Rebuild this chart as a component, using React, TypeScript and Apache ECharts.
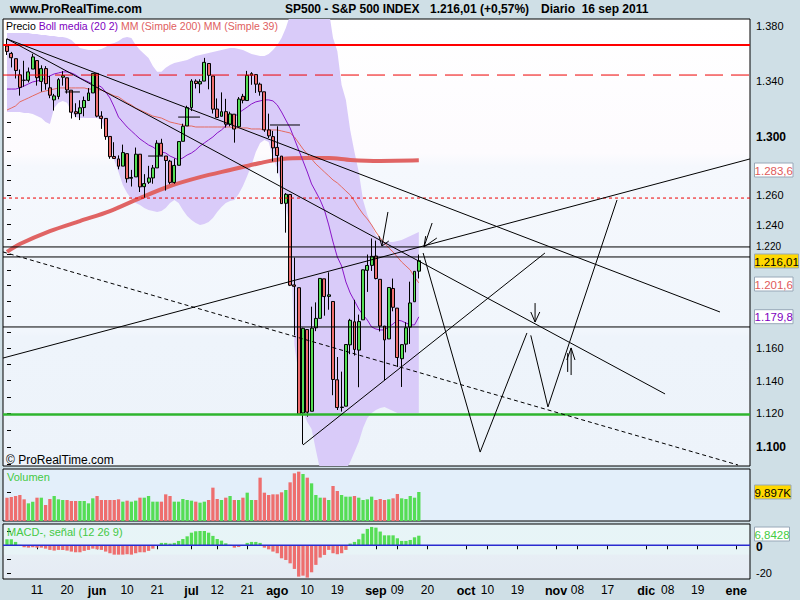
import React, { useEffect, useRef } from "react";
import * as echarts from "echarts";

const FONT = '"Liberation Sans", Arial, Helvetica, sans-serif';
const L = Math.log;

// ---------------- DATA (S&P 500 daily, 2 May 2011 .. 16 Sep 2011, index = trading day) -------------
const opens = [
  1365.21, 1359.76, 1355.9, 1344.16, 1340.24, 1340.2, 1348.34, 1354.51, 1339.39, 1348.69,
  1334.77, 1326.1, 1328.54, 1342.4, 1342.0, 1333.07, 1317.7, 1316.36, 1320.64, 1325.69,
  1331.1, 1345.2, 1314.55, 1312.94, 1300.26, 1286.31, 1284.63, 1279.63, 1288.26, 1271.31,
  1272.22, 1287.87, 1265.53, 1268.58, 1271.5, 1278.4, 1295.48, 1286.6, 1283.04, 1268.44,
  1280.21, 1296.85, 1307.64, 1320.64, 1339.59, 1337.56, 1339.62, 1352.39, 1343.31, 1319.61,
  1314.45, 1317.74, 1308.87, 1315.94, 1307.07, 1328.66, 1325.65, 1343.8, 1344.32, 1337.39,
  1331.91, 1304.84, 1300.12, 1292.59, 1286.56, 1254.25, 1260.23, 1200.28, 1198.48, 1120.23,
  1171.77, 1121.3, 1172.87, 1178.86, 1204.22, 1192.89, 1189.62, 1140.47, 1123.55, 1124.36,
  1162.16, 1176.69, 1158.85, 1177.91, 1209.76, 1213.0, 1219.12, 1203.9, 1173.97, 1165.85,
  1197.98, 1185.37, 1153.5, 1162.59, 1173.32, 1189.44, 1209.21,
];
const highs = [
  1370.58, 1360.84, 1355.9, 1348.0, 1354.36, 1349.44, 1359.44, 1354.51, 1351.05, 1350.47,
  1343.33, 1330.42, 1341.82, 1346.82, 1342.0, 1333.07, 1323.72, 1325.86, 1328.51, 1334.62,
  1345.2, 1345.2, 1318.03, 1312.94, 1300.26, 1296.22, 1287.04, 1294.54, 1288.26, 1277.04,
  1292.5, 1287.87, 1274.11, 1279.82, 1280.42, 1297.62, 1298.61, 1286.6, 1283.93, 1284.91,
  1296.8, 1309.21, 1321.97, 1341.01, 1340.89, 1340.94, 1356.48, 1352.39, 1343.31, 1327.17,
  1331.48, 1326.88, 1317.7, 1315.94, 1328.14, 1330.43, 1347.0, 1346.1, 1344.32, 1338.51,
  1331.91, 1316.32, 1304.16, 1307.38, 1286.56, 1261.2, 1260.23, 1218.11, 1198.48, 1172.88,
  1171.77, 1186.29, 1189.04, 1204.49, 1204.22, 1208.47, 1189.62, 1154.54, 1145.49, 1162.35,
  1178.56, 1190.68, 1181.23, 1210.28, 1220.1, 1230.71, 1229.29, 1203.9, 1173.97, 1198.62,
  1204.4, 1185.37, 1162.52, 1176.41, 1202.38, 1209.11, 1220.06,
];
const lows = [
  1358.59, 1349.52, 1341.5, 1329.17, 1335.58, 1338.64, 1348.34, 1336.36, 1332.03, 1333.36,
  1327.32, 1318.51, 1326.59, 1336.36, 1330.67, 1312.88, 1313.87, 1311.8, 1314.41, 1325.69,
  1331.1, 1313.71, 1305.61, 1297.9, 1284.72, 1284.74, 1277.42, 1279.63, 1268.28, 1265.64,
  1272.22, 1261.9, 1258.07, 1267.4, 1267.56, 1278.4, 1286.79, 1262.87, 1267.24, 1267.53,
  1280.21, 1296.85, 1307.64, 1318.18, 1334.3, 1330.92, 1339.62, 1333.71, 1316.42, 1313.33,
  1314.45, 1306.51, 1307.35, 1295.92, 1307.07, 1323.65, 1325.65, 1336.95, 1331.09, 1329.1,
  1303.49, 1299.16, 1282.86, 1274.73, 1254.03, 1234.56, 1199.54, 1168.09, 1119.28, 1101.54,
  1118.01, 1121.3, 1170.74, 1178.86, 1180.53, 1184.36, 1131.03, 1122.05, 1121.09, 1124.36,
  1156.3, 1155.47, 1135.91, 1177.91, 1195.77, 1209.35, 1203.85, 1170.56, 1140.13, 1165.85,
  1183.34, 1148.37, 1136.07, 1157.44, 1162.73, 1189.44, 1204.46,
];
const closes = [
  1361.22, 1356.62, 1347.32, 1335.1, 1340.2, 1346.29, 1357.16, 1342.08, 1348.65, 1337.77,
  1329.47, 1328.98, 1340.68, 1343.6, 1333.27, 1317.37, 1316.28, 1320.47, 1325.69, 1331.1,
  1345.2, 1314.55, 1312.94, 1300.16, 1286.17, 1284.94, 1279.56, 1289.0, 1270.98, 1271.83,
  1287.87, 1265.42, 1267.64, 1271.5, 1278.36, 1295.52, 1287.14, 1283.5, 1268.45, 1280.1,
  1296.67, 1307.41, 1320.64, 1339.67, 1337.88, 1339.22, 1353.22, 1343.8, 1319.49, 1313.64,
  1317.72, 1308.87, 1316.14, 1305.44, 1326.73, 1325.84, 1343.8, 1345.02, 1337.43, 1331.94,
  1304.89, 1300.67, 1292.28, 1286.94, 1254.05, 1260.34, 1200.07, 1199.38, 1119.46, 1172.53,
  1120.76, 1172.64, 1178.81, 1204.49, 1192.76, 1193.89, 1140.65, 1123.53, 1123.82, 1162.35,
  1177.6, 1159.27, 1176.8, 1210.08, 1212.92, 1218.89, 1204.42, 1173.97, 1165.24, 1198.62,
  1185.9, 1154.23, 1162.27, 1172.87, 1188.68, 1209.11, 1216.01,
];
const volumes = [
  7960, 8190, 8530, 8870, 7400, 6030, 6600, 7960, 7960, 5460,
  7510, 8530, 7400, 7170, 7170, 6830, 6830, 6830, 6830, 6030,
  7740, 8530, 7170, 7170, 7170, 7170, 7400, 6600, 6940, 6600,
  6940, 7960, 7960, 8530, 6600, 6600, 6600, 9100, 8530, 6600,
  6600, 7510, 7170, 6940, 6600, 6260, 6600, 7170, 11380, 7510,
  7170, 7960, 8530, 7170, 7170, 7960, 9670, 7170, 7170, 14790,
  9670, 8870, 9100, 9100, 9790, 10580, 13200, 16270, 16840, 16040,
  14790, 12860, 8870, 7960, 7960, 7170, 11950, 10240, 8870, 8310,
  8310, 8530, 7960, 7170, 7400, 8310, 7170, 7510, 7170, 7400,
  7740, 9220, 7740, 7510, 8530, 7960, 9897,
];
const macdHist = [
  4.3, 4.3, 2.4, 0.3, -1.4, -1.7, -1.4, -1.7, -1.7, -2.4,
  -3.3, -3.8, -3.3, -3.3, -3.8, -4.5, -5.0, -5.0, -4.0, -3.3,
  -2.4, -2.9, -3.3, -4.5, -5.7, -6.7, -6.7, -6.7, -6.4, -6.7,
  -5.7, -5.0, -5.0, -4.0, -2.4, 0.2, 1.7, 1.7, 1.2, 1.7,
  3.1, 4.5, 6.4, 9.0, 10.0, 10.2, 10.2, 9.0, 6.7, 4.5,
  3.3, 1.4, 0.3, -1.7, -1.2, 0.2, 1.7, 2.4, 2.4, 1.7,
  -1.7, -2.9, -4.5, -5.7, -9.3, -10.5, -12.9, -16.9, -22.4, -21.7,
  -23.1, -19.3, -14.0, -8.8, -6.9, -3.3, -5.7, -6.4, -5.7, -3.3,
  1.2, 2.4, 4.3, 8.3, 11.7, 13.1, 12.6, 9.8, 7.1, 7.1,
  7.1, 5.0, 3.1, 3.1, 3.8, 5.7, 6.84,
];
const bbUpper = [
  1374.8, 1374.8, 1374.8, 1374.8, 1374.8, 1374.8, 1374.0, 1374.0, 1373.3, 1373.3,
  1372.6, 1372.6, 1371.8, 1371.8, 1371.1, 1369.6, 1366.7, 1363.7, 1363.0, 1362.3,
  1362.3, 1362.3, 1363.0, 1364.5, 1366.7, 1367.4, 1368.9, 1371.1, 1371.8, 1371.1,
  1365.9, 1362.3, 1359.4, 1356.4, 1350.6, 1346.3, 1346.3,
  1349.2, 1351.3, 1352.8, 1353.5, 1354.2, 1354.9, 1356.4, 1357.9, 1358.6, 1359.4,
  1360.1, 1360.8, 1361.6, 1362.3, 1363.0, 1363.7, 1363.7, 1363.0, 1362.3, 1360.8,
  1359.4, 1358.6, 1357.9, 1357.9, 1359.4, 1362.3, 1365.9, 1371.1,
  1378.5, 1388.2, 1395.7, 1403.2, 1408.5, 1410.8, 1413.1, 1414.6, 1414.6, 1413.1,
  1392.0, 1371.1, 1361.6, 1336.8, 1326.1, 1304.8, 1289.4, 1275.6, 1256.5, 1246.4,
  1239.7, 1233.0, 1229.7, 1228.4, 1228.4, 1228.4, 1229.0, 1229.7, 1231.0, 1232.3,
  1233.6, 1235.0,
];
const bbLower = [
  1317.5, 1317.5, 1317.5, 1317.5, 1316.8, 1316.8, 1316.1, 1314.6, 1313.2, 1310.4,
  1309.0, 1320.3, 1324.0, 1325.4, 1324.0, 1317.5, 1313.9, 1313.2, 1313.2, 1313.2,
  1313.2, 1313.2, 1311.8, 1303.4, 1294.3, 1283.9, 1275.6, 1266.7, 1261.3, 1257.2,
  1254.5, 1253.1, 1251.1, 1249.7, 1249.0, 1248.4, 1249.0, 1251.1, 1254.5, 1256.5,
  1254.5, 1249.7, 1245.7, 1243.0, 1241.0, 1239.7, 1240.3, 1241.7, 1244.3, 1248.4,
  1251.7, 1254.5, 1255.8, 1256.5, 1260.6, 1266.0, 1272.9, 1280.4, 1289.4, 1295.7,
  1297.8, 1296.4, 1285.3, 1278.4, 1266.7, 1253.1, 1236.3, 1162.0, 1143.4, 1120.8,
  1114.8, 1110.6, 1098.2, 1086.4, 1080.6, 1079.5, 1079.5, 1080.6, 1083.0, 1086.4,
  1091.1, 1097.0, 1102.9, 1111.2, 1117.2, 1120.2, 1122.0, 1123.2, 1123.8, 1122.6,
  1121.4, 1120.2, 1120.2, 1120.2, 1120.2, 1120.2, 1120.2,
];
const bbMid = [
  1333.9, 1333.9, 1333.9, 1334.7, 1336.1, 1337.6, 1339.0, 1339.7, 1340.4, 1341.9,
  1343.4, 1344.8, 1345.5, 1346.3, 1346.3, 1345.5, 1344.1, 1341.9, 1340.4, 1339.0,
  1337.6, 1336.8, 1335.4, 1331.8, 1327.5, 1321.0, 1313.9, 1310.4, 1306.9, 1304.1,
  1301.3, 1298.5, 1296.4, 1294.3, 1292.9, 1290.8, 1289.4, 1288.7, 1286.6, 1285.3,
  1283.9, 1285.3, 1287.3, 1288.7, 1290.8, 1293.6, 1295.7, 1297.8, 1299.9, 1302.7,
  1304.8, 1307.6, 1310.4, 1313.9, 1316.8, 1318.9, 1321.0, 1323.2, 1324.7, 1325.4,
  1326.1, 1326.1, 1325.4, 1322.5, 1317.5, 1311.8, 1306.2, 1298.5, 1290.8, 1283.2,
  1275.6, 1267.4, 1262.0, 1256.5, 1249.7, 1239.7, 1228.4, 1218.5, 1212.6, 1202.2,
  1195.1, 1190.0, 1184.8, 1181.0, 1177.8, 1173.4, 1172.1, 1171.5, 1171.5, 1173.4,
  1175.3, 1177.8, 1177.2, 1175.9, 1174.7, 1174.7, 1179.8,
];
const ma39 = [
  1318.9, 1320.3, 1321.8, 1324.7, 1326.1, 1327.5, 1329.0, 1330.4, 1331.8, 1332.5,
  1333.2, 1333.9, 1334.7, 1334.7, 1334.7, 1334.7, 1334.7, 1334.7, 1334.7, 1333.9,
  1333.9, 1333.2, 1333.2, 1331.8, 1330.4, 1329.0, 1328.2, 1326.1, 1324.0, 1322.5,
  1320.3, 1318.9, 1317.5, 1316.1, 1314.6, 1313.9, 1313.2, 1311.8, 1310.4, 1309.7,
  1309.0, 1308.3, 1307.6, 1307.6, 1306.9, 1306.9, 1306.9, 1306.9, 1306.9, 1306.9,
  1306.9, 1306.9, 1306.9, 1306.2, 1306.2, 1306.2, 1306.2, 1305.5, 1305.5, 1305.5,
  1304.8, 1304.8, 1304.8, 1304.8, 1304.1, 1303.4, 1302.7, 1299.9, 1295.7, 1291.5,
  1288.0, 1284.6, 1281.1, 1278.4, 1275.6, 1272.9, 1270.1, 1268.1, 1265.4, 1262.6,
  1259.9, 1255.8, 1251.1, 1247.0, 1243.7, 1239.7, 1235.0, 1231.0, 1227.7, 1224.4,
  1221.8, 1218.5, 1215.2, 1212.6, 1210.0, 1205.4, 1201.6,
];
const ma200Idx = [0, 3, 10, 17, 24, 31, 38, 45, 52, 59, 64, 70, 75, 80, 87, 96];
const ma200Val = [1221.8, 1227.0, 1235.6, 1242.3, 1249.0, 1257.8, 1266.0, 1272.1, 1277.0, 1281.8, 1284.6, 1285.3, 1285.3, 1283.9, 1283.2, 1283.6];

// horizontal levels (price)
const redSolidLevel = 1365.9;
const redDashLevel = 1344.0;
const redDotLevel = 1257.8;
const blackLevels = [1225.1, 1218.5, 1173.4];
const greenLevel = 1119.4;

// drawn trend lines: polylines of [tradingDayIndex, price]
const trendLines = [
  [[0, 1370.4], [166.2, 1182.9]],
  [[0, 1370.4], [153.4, 1131.8]],
  [[-0.93, 1153.9], [173.2, 1284.6]],
  [[69.0, 1101.1], [125.4, 1221.1]],
  [[97.0, 1221.1], [110.3, 1096.9], [121.2, 1169.6]],
  [[122.1, 1168.1], [126.1, 1123.9], [142.2, 1256.5]],
  // arrows
  [[88.8, 1248.4], [87.4, 1225.7]],
  [[86.7, 1232.3], [87.4, 1225.7], [89.0, 1229.0]],
  [[99.1, 1241.0], [97.2, 1225.1]],
  [[97.6, 1232.3], [97.2, 1225.1], [100.2, 1231.0]],
  [[123.1, 1188.6], [123.1, 1176.5]],
  [[122.1, 1182.9], [123.1, 1176.5], [124.2, 1182.9]],
  [[131.5, 1143.4], [131.5, 1160.2]],
  [[130.5, 1152.7], [131.5, 1160.2], [132.4, 1152.7]],
  [[130.7, 1145.3], [130.7, 1157.0]],
  // short horizontal marks
  [[13.5, 1331.8], [17.0, 1331.8]],
  [[32.9, 1286.6], [36.4, 1286.6]],
  [[39.9, 1313.9], [45.0, 1313.9]],
  [[61.3, 1308.3], [68.3, 1308.3]],
];
const dottedLine = [[-0.93, 1221.8], [170.4, 1089.3]];

// axis labels
const xLabelIdx = [7, 14, 21, 28, 35, 43, 49, 56, 63, 70, 77, 86, 91, 98, 107, 112, 119, 128, 133, 140, 149, 154, 161, 170];
const xLabelText = ["11", "20", "jun", "10", "21", "jul", "12", "21", "ago", "10", "19", "sep", "09", "20", "oct", "10", "19", "nov", "08", "17", "dic", "08", "19", "ene"];
const priceLabels = [1100, 1120, 1140, 1160, 1220, 1240, 1260, 1300, 1340, 1380];
const priceBold = [1100, 1300];
const priceRaised = [1220];
const macdLabels = [0, -20];
const macdTicks = [10, 0, -10, -20];

// texts
const siteTitle = "www.ProRealTime.com";
const instTitle = "SP500 - S&P 500 INDEX";
const lastTitle = "1.216,01 (+0,57%)";
const dateTitle = "Diario  16 sep 2011";
const lastLabel = "1.216,01";
const ma200Label = "1.283,6";
const ma39Label = "1.201,6";
const bbLabel = "1.179,8";
const volLabel = "9.897K";
const macdLabel = "6,8428";

// ---------------- layout ----------------
const XMIN = -0.93;
const XMAX = 173.2;
const PMIN = 1088.7;
const PMAX = 1385.2;
const GREEN = "#55dd55";
const RED = "#ee6e6e";
const LAV = "#d9cbf9";
const SALMON = "#e46a60";
const PURPLE = "#8a16c8";

function fmtPrice(n: number) {
  return (n / 1000).toFixed(3);
}

function buildOption() {
  const n = closes.length;
  const up = closes.map((c, i) => c >= opens[i]);
  const priceTicks: number[] = [];
  for (let v = 1090; v <= 1380; v += 10) priceTicks.push(L(v));

  const lineSeries = (pts: number[][], color: string, width: number, type: any = "solid", z = 5) => ({
    type: "line",
    xAxisIndex: 0,
    yAxisIndex: 0,
    data: pts.map((p) => [p[0], L(p[1])]),
    symbol: "none",
    silent: true,
    lineStyle: { color, width, type },
    z,
  });
  const hLine = (p: number, color: string, width: number, type: any = "solid", z = 4) =>
    lineSeries([[XMIN, p], [XMAX, p]], color, width, type, z);

  const series: any[] = [
    {
      type: "custom",
      xAxisIndex: 0,
      yAxisIndex: 0,
      data: [[0, L(bbUpper[0])]],
      silent: true,
      clip: true,
      z: 1,
      renderItem: (params: any, api: any) => {
        const pts: number[][] = [];
        bbUpper.forEach((v, i) => pts.push(api.coord([i, L(v)])));
        for (let i = bbLower.length - 1; i >= 0; i--) pts.push(api.coord([i, L(bbLower[i])]));
        const cs = params.coordSys;
        return {
          type: "group",
          clipPath: { type: "rect", shape: { x: cs.x, y: cs.y, width: cs.width, height: cs.height } },
          children: [{ type: "polygon", shape: { points: pts }, style: { fill: LAV, stroke: "none" } }],
        };
      },
    },
    {
      type: "line",
      xAxisIndex: 0,
      yAxisIndex: 0,
      data: ma200Idx.map((x, k) => [x, L(ma200Val[k])]),
      symbol: "none",
      silent: true,
      smooth: 0.3,
      lineStyle: { color: "#e06464", width: 4 },
      z: 2,
    },
    {
      type: "line",
      xAxisIndex: 0,
      yAxisIndex: 0,
      data: ma39.map((v, i) => [i, L(v)]),
      symbol: "none",
      silent: true,
      lineStyle: { color: SALMON, width: 1 },
      z: 2,
    },
    {
      type: "line",
      xAxisIndex: 0,
      yAxisIndex: 0,
      data: bbMid.map((v, i) => [i, L(v)]),
      symbol: "none",
      silent: true,
      lineStyle: { color: PURPLE, width: 1 },
      z: 2,
    },
    {
      type: "candlestick",
      xAxisIndex: 0,
      yAxisIndex: 0,
      barWidth: 3.4,
      data: closes.map((c, i) => [i, L(opens[i]), L(c), L(lows[i]), L(highs[i])]),
      itemStyle: {
        color: GREEN,
        color0: RED,
        borderColor: "#000",
        borderColor0: "#000",
        borderWidth: 1,
      },
      silent: true,
      z: 3,
    },
    hLine(redSolidLevel, "#ff0000", 2),
    hLine(redDashLevel, "#ee0000", 1, [18, 8]),
    hLine(redDotLevel, "#ee0000", 1, [3, 3]),
    ...blackLevels.map((p) => hLine(p, "#000", 1)),
    hLine(greenLevel, "#2eb52e", 2.5),
    ...trendLines.map((pts) => lineSeries(pts, "#000", 1)),
    lineSeries(dottedLine, "#000", 1, [4, 3]),
    {
      type: "bar",
      xAxisIndex: 1,
      yAxisIndex: 1,
      barWidth: 3.3,
      data: volumes.map((v, i) => ({ value: [i, v], itemStyle: { color: up[i] ? GREEN : RED } })),
      silent: true,
    },
    {
      type: "bar",
      xAxisIndex: 2,
      yAxisIndex: 2,
      barWidth: 3.3,
      data: macdHist.map((v, i) => ({ value: [i, v], itemStyle: { color: v >= 0 ? GREEN : RED } })),
      silent: true,
    },
    {
      type: "line",
      xAxisIndex: 2,
      yAxisIndex: 2,
      data: [[XMIN, 0], [XMAX, 0]],
      symbol: "none",
      silent: true,
      lineStyle: { color: "#2a2ad0", width: 1.5 },
      z: 5,
    },
  ];

  const mainBg = new echarts.graphic.LinearGradient(0, 0, 0, 1, [
    { offset: 0, color: "#ffffff" },
    { offset: 0.3, color: "#fdfbfe" },
    { offset: 0.33, color: "#f5f8fd" },
    { offset: 0.7, color: "#f1f6fc" },
    { offset: 0.71, color: "#eef4fb" },
    { offset: 1, color: "#edf3fa" },
  ]);
  const macdBg = new echarts.graphic.LinearGradient(0, 0, 0, 1, [
    { offset: 0, color: "#e7f5f7" },
    { offset: 0.55, color: "#e8f4f7" },
    { offset: 0.56, color: "#e7eef5" },
    { offset: 1, color: "#e5ebf4" },
  ]);

  const hiddenX = (gi: number) => ({
    type: "value",
    gridIndex: gi,
    min: XMIN,
    max: XMAX,
    show: false,
    splitLine: { show: false },
  });

  const boxes = [
    { y: 170, w: 38.5, text: ma200Label, fill: "#ffffff", color: "#e05a5a" },
    { y: 261, w: 44, text: lastLabel, fill: "#ffd800", color: "#000" },
    { y: 284, w: 38.5, text: ma39Label, fill: "#ffffff", color: "#e05a5a" },
    { y: 316.7, w: 38.5, text: bbLabel, fill: "#ffffff", color: "#8000c0" },
    { y: 492, w: 36.5, text: volLabel, fill: "#ffd800", color: "#000" },
    { y: 534, w: 35, text: macdLabel, fill: "#ffffff", color: "#44cc44" },
  ];

  const graphic: any[] = [
    { type: "text", x: 10, y: 9, z: 100, style: { text: siteTitle, fill: "#000", font: `bold 12px ${FONT}`, verticalAlign: "middle" } },
    { type: "text", x: 285, y: 9, z: 100, style: { text: instTitle, fill: "#000", font: `bold 12px ${FONT}`, verticalAlign: "middle" } },
    { type: "text", x: 430, y: 9, z: 100, style: { text: lastTitle, fill: "#000", font: `bold 12px ${FONT}`, verticalAlign: "middle" } },
    { type: "text", x: 541, y: 9, z: 100, style: { text: dateTitle, fill: "#000", font: `bold 12px ${FONT}`, verticalAlign: "middle" } },
    {
      type: "text",
      x: 6,
      y: 26,
      z: 100,
      style: {
        text: "{a|Precio} {b|Boll media (20 2)} {c|MM (Simple 200) MM (Simple 39)}",
        font: `10.5px ${FONT}`,
        verticalAlign: "middle",
        rich: {
          a: { fill: "#000", color: "#000", font: `10.5px ${FONT}` },
          b: { fill: "#8000c0", color: "#8000c0", font: `10.5px ${FONT}` },
          c: { fill: "#e06060", color: "#e06060", font: `10.5px ${FONT}` },
        },
      },
    },
    { type: "text", x: 6, y: 460, z: 100, style: { text: "© ProRealTime.com", fill: "#000", font: `12px ${FONT}`, verticalAlign: "middle" } },
    { type: "text", x: 7, y: 477, z: 100, style: { text: "Volumen", fill: "#44c944", font: `11px ${FONT}`, verticalAlign: "middle" } },
    { type: "text", x: 7, y: 532, z: 100, style: { text: "MACD-, señal (12 26 9)", fill: "#44c944", font: `11px ${FONT}`, verticalAlign: "middle" } },
  ];
  boxes.forEach((b) => {
    graphic.push({
      type: "rect",
      z: 100,
      shape: { x: 754.5, y: b.y - 7, width: b.w, height: 14 },
      style: { fill: b.fill, stroke: "#98a8b8", lineWidth: 1 },
    });
    graphic.push({
      type: "text",
      z: 101,
      x: 754.5 + b.w / 2,
      y: b.y + 0.5,
      style: { text: b.text, fill: b.color, font: `11.5px ${FONT}`, align: "center", verticalAlign: "middle" },
    });
  });

  return {
    animation: false,
    backgroundColor: "#cfdfe6",
    textStyle: { fontFamily: FONT },
    grid: [
      { left: 3, top: 19, width: 747, height: 447, show: true, borderColor: "#000", borderWidth: 1, backgroundColor: mainBg },
      { left: 3, top: 469, width: 747, height: 52, show: true, borderColor: "#000", borderWidth: 1, backgroundColor: "#e3effa" },
      { left: 3, top: 524, width: 747, height: 55, show: true, borderColor: "#000", borderWidth: 1, backgroundColor: macdBg },
    ],
    xAxis: [
      hiddenX(0),
      hiddenX(1),
      {
        type: "value",
        gridIndex: 2,
        min: XMIN,
        max: XMAX,
        splitLine: { show: false },
        axisLine: { show: false },
        axisTick: { show: true, customValues: xLabelIdx, length: 4, lineStyle: { color: "#000" } },
        axisLabel: {
          customValues: xLabelIdx,
          margin: 5,
          color: "#000",
          fontSize: 12,
          fontFamily: FONT,
          formatter: (v: number) => {
            const k = xLabelIdx.indexOf(Math.round(v));
            const t = k >= 0 ? xLabelText[k] : "";
            return /^[a-z]+$/.test(t) ? `{b|${t}}` : t;
          },
          rich: { b: { fontWeight: "bold", fontSize: 12.5, color: "#000", fontFamily: FONT } },
        },
      },
    ],
    yAxis: [
      {
        type: "value",
        gridIndex: 0,
        position: "right",
        min: L(PMIN),
        max: L(PMAX),
        splitLine: { show: false },
        axisLine: { show: false },
        axisTick: { show: true, customValues: priceTicks, length: 4, lineStyle: { color: "#000" } },
        axisLabel: {
          customValues: priceLabels.map((p) => L(p)),
          margin: 6,
          color: "#000",
          fontSize: 11,
          fontFamily: FONT,
          formatter: (v: number) => {
            const p = Math.round(Math.exp(v));
            const s = fmtPrice(p);
            if (priceBold.indexOf(p) >= 0) return `{b|${s}}`;
            if (priceRaised.indexOf(p) >= 0) return `{u|${s}}`;
            return s;
          },
          rich: {
            b: { fontWeight: "bold", fontSize: 12, color: "#000", fontFamily: FONT },
            u: { fontSize: 10, color: "#000", fontFamily: FONT, padding: [0, 0, 16, 0] },
          },
        },
      },
      {
        type: "value",
        gridIndex: 1,
        position: "right",
        min: 0,
        max: 17750,
        splitLine: { show: false },
        axisLine: { show: false },
        axisTick: { show: true, customValues: [volumes[n - 1]], length: 4, lineStyle: { color: "#000" } },
        axisLabel: { show: false },
      },
      {
        type: "value",
        gridIndex: 2,
        position: "right",
        min: -24.1,
        max: 15.2,
        splitLine: { show: false },
        axisLine: { show: false },
        axisTick: { show: true, customValues: macdTicks, length: 4, lineStyle: { color: "#000" } },
        axisLabel: {
          customValues: macdLabels,
          margin: 6,
          color: "#000",
          fontSize: 11,
          fontFamily: FONT,
          formatter: (v: number) => (Math.round(v) === 0 ? "{b|0}" : String(Math.round(v))),
          rich: { b: { fontWeight: "bold", fontSize: 12, color: "#000", fontFamily: FONT, padding: [3, 0, 0, 0] } },
        },
      },
    ],
    series,
    graphic,
  };
}

export default function App() {
  const ref = useRef<HTMLDivElement>(null);
  useEffect(() => {
    if (!ref.current) return;
    const chart = echarts.init(ref.current, null, { renderer: "svg" });
    chart.setOption(buildOption() as any);
    return () => chart.dispose();
  }, []);
  return <div ref={ref} style={{ position: "fixed", left: 0, top: 0, width: 800, height: 600 }} />;
}
